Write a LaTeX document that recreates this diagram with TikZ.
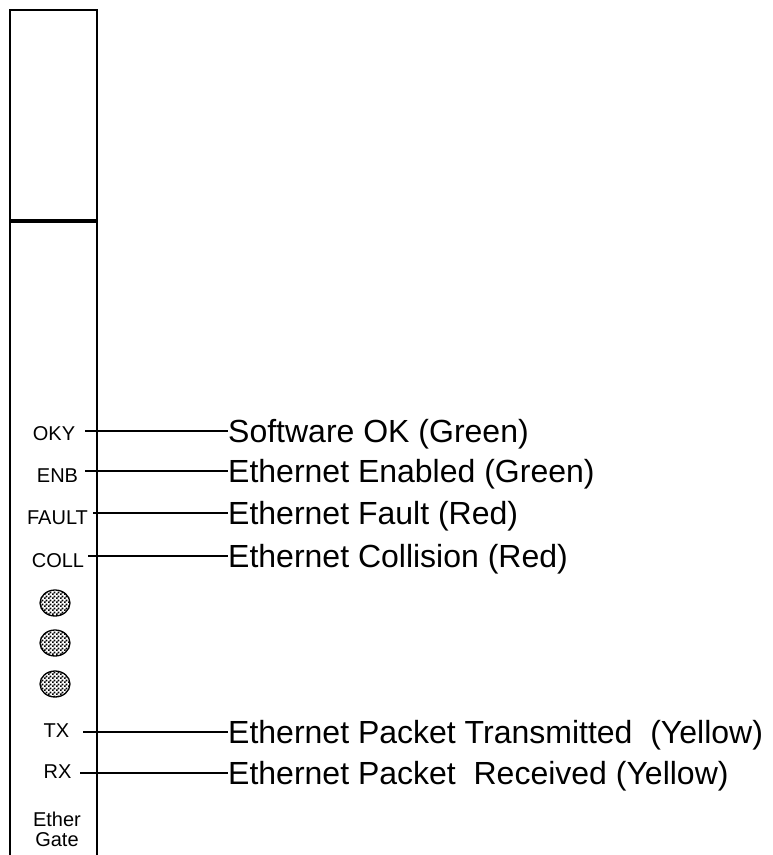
\documentclass[tikz,border=0pt]{standalone}
\usepackage{fontspec}
\setmainfont{Liberation Sans}
\usetikzlibrary{patterns}
\pgfdeclarepatternformonly{finechecker}{\pgfpointorigin}{\pgfqpoint{4pt}{4pt}}{\pgfqpoint{4pt}{4pt}}{%
  \pgfpathrectangle{\pgfpointorigin}{\pgfqpoint{2pt}{2pt}}%
  \pgfpathrectangle{\pgfqpoint{2pt}{2pt}}{\pgfqpoint{2pt}{2pt}}%
  \pgfusepath{fill}}
\begin{document}
\begin{tikzpicture}[x=1pt,y=-1pt,
  big/.style={anchor=west, inner sep=0pt, font=\fontsize{32}{38}\selectfont, text height=22.9pt, text depth=0pt},
  small/.style={inner sep=0pt, font=\fontsize{20}{20}\selectfont, text height=14.3pt, text depth=0pt},
  leader/.style={line width=1.4pt},
  panelside/.style={line width=1.5pt},
  ledshape/.style={line width=1.3pt, pattern=finechecker}]
\useasboundingbox (0,0) rectangle (772,855);
% panel
\draw[panelside] (10,10) -- (10,855);
\draw[panelside] (97,10) -- (97,855);
\draw[line width=2pt] (9.25,10) -- (97.75,10);
\draw[line width=4pt] (10,221) -- (97,221);
% labels on panel
\node[small] (l1) at (54,433) {OKY};
\node[small] (l2) at (57.5,475) {ENB};
\node[small] (l3) at (57.5,517) {FAULT};
\node[small] (l4) at (58,560) {COLL};
\node[small] (l5) at (56.5,730) {TX};
\node[small] (l6) at (57.5,771) {RX};
\node[align=center, inner sep=0pt, font=\fontsize{20}{20}\selectfont] (eg) at (57,829) {Ether\\Gate};
% unused LEDs
\draw[ledshape] (55,603) ellipse [x radius=15, y radius=13];
\draw[ledshape] (55,643) ellipse [x radius=15, y radius=13];
\draw[ledshape] (55,684) ellipse [x radius=15, y radius=13];
% descriptions
\node[big] (t1) at (228,431) {Software OK (Green)};
\node[big] (t2) at (228,471) {Ethernet Enabled (Green)};
\node[big] (t3) at (228,513) {Ethernet Fault (Red)};
\node[big] (t4) at (228,556) {Ethernet Collision (Red)};
\node[big] (t5) at (228,732) {Ethernet Packet Transmitted~~(Yellow)};
\node[big] (t6) at (228,773) {Ethernet Packet~~Received (Yellow)};
\coordinate (s1) at (85,431);
\coordinate (s2) at (85,471);
\coordinate (s3) at (93,513);
\coordinate (s4) at (88,556);
\coordinate (s5) at (83,732);
\coordinate (s6) at (80,773);
\draw[leader] (s1) -- (t1.west);
\draw[leader] (s2) -- (t2.west);
\draw[leader] (s3) -- (t3.west);
\draw[leader] (s4) -- (t4.west);
\draw[leader] (s5) -- (t5.west);
\draw[leader] (s6) -- (t6.west);
\end{tikzpicture}
\end{document}
